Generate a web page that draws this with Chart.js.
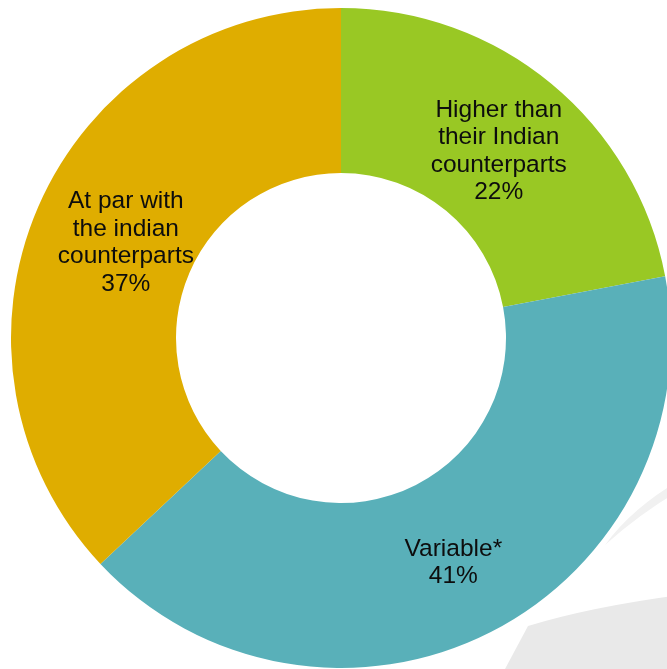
<!DOCTYPE html>
<html>
<head>
<meta charset="utf-8">
<script src="https://cdn.jsdelivr.net/npm/chart.js@4"></script>
<style>
  html, body { margin: 0; padding: 0; background: #fff; overflow: hidden; }
  canvas { display: block; }
</style>
</head>
<body>
<canvas id="donutChart" width="680" height="669"></canvas>
<script>
// Chart values
const categories = [
  ['Higher than', 'their Indian', 'counterparts'],
  ['Variable*'],
  ['At par with', 'the indian', 'counterparts']
];
const shares = [22, 41, 37];
const sliceColors = ['#99C824', '#59B0B9', '#DFAD00'];

// grey swoosh in the bottom right corner (background decoration)
const swoosh = {
  id: 'swoosh',
  beforeDraw(chart) {
    const ctx = chart.ctx;
    ctx.save();
    ctx.fillStyle = '#e9e9e9';
    ctx.beginPath();
    ctx.moveTo(505, 669);
    ctx.lineTo(528, 626);
    ctx.quadraticCurveTo(590, 607, 680, 595);
    ctx.lineTo(680, 669);
    ctx.closePath();
    ctx.fill();

    ctx.fillStyle = '#f1f1f1';
    ctx.beginPath();
    ctx.moveTo(605, 545);
    ctx.quadraticCurveTo(632, 508, 680, 480);
    ctx.lineTo(680, 490);
    ctx.quadraticCurveTo(638, 515, 605, 545);
    ctx.closePath();
    ctx.fill();
    ctx.restore();
  }
};

// slice labels: name lines + percentage, near the middle of each arc
const nudge = [[0, 4], [0, 4], [12, 3]];
const sliceLabels = {
  id: 'sliceLabels',
  afterDatasetsDraw(chart) {
    const ctx = chart.ctx;
    const meta = chart.getDatasetMeta(0);
    ctx.save();
    ctx.font = '24.5px "Liberation Sans", Arial, sans-serif';
    ctx.fillStyle = '#0d0d0d';
    ctx.textAlign = 'center';
    ctx.textBaseline = 'middle';
    const lh = 27.5;
    meta.data.forEach((arc, i) => {
      const p = arc.tooltipPosition();
      const lines = categories[i].concat([shares[i] + '%']);
      const x = p.x + nudge[i][0];
      const top = p.y + nudge[i][1] - (lines.length - 1) * lh / 2;
      lines.forEach((t, j) => ctx.fillText(t, x, top + j * lh));
    });
    ctx.restore();
  }
};

new Chart(document.getElementById('donutChart'), {
  type: 'doughnut',
  data: {
    labels: categories.map(c => c.join(' ')),
    datasets: [{
      data: shares,
      backgroundColor: sliceColors,
      borderWidth: 0
    }]
  },
  options: {
    responsive: false,
    animation: false,
    cutout: '50%',
    layout: { padding: { left: 11, top: 8, right: 9, bottom: 1 } },
    plugins: {
      legend: { display: false },
      tooltip: { enabled: false }
    }
  },
  plugins: [swoosh, sliceLabels]
});
</script>
</body>
</html>
